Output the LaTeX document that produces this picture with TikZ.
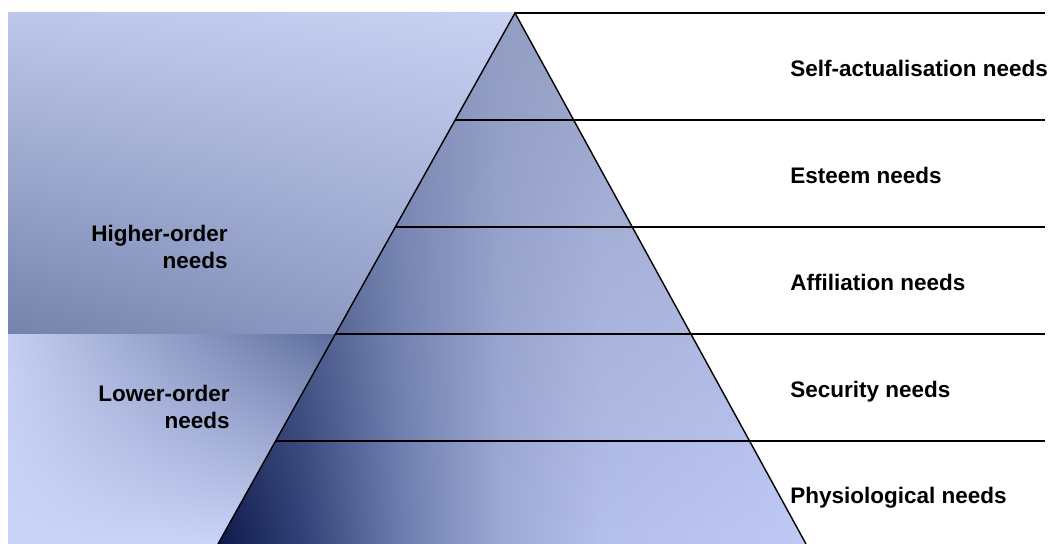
\documentclass[tikz,border=0pt]{standalone}
\usepackage{fontspec}
\setmainfont{Liberation Sans}
\usetikzlibrary{calc,shadings,fadings}

\definecolor{skytop}{RGB}{190,199,234}
\definecolor{skytopr}{RGB}{200,209,242}
\definecolor{skylow}{RGB}{116,131,172}
\definecolor{skylowr}{RGB}{152,164,205}
\definecolor{groundl}{RGB}{198,207,242}
\definecolor{grounds}{RGB}{92,108,155}
\definecolor{groundb}{RGB}{202,211,248}
\definecolor{haze}{RGB}{140,150,184}

\pgfdeclarehorizontalshading{pyramidshade}{100bp}{
  color(0bp)=(rgb,255:red,15;green,25;blue,75);
  color(25bp)=(rgb,255:red,15;green,25;blue,75);
  color(32bp)=(rgb,255:red,48;green,64;blue,118);
  color(40.5bp)=(rgb,255:red,108;green,124;blue,174);
  color(49bp)=(rgb,255:red,158;green,170;blue,214);
  color(57.5bp)=(rgb,255:red,180;green,191;blue,234);
  color(75bp)=(rgb,255:red,192;green,202;blue,246);
  color(100bp)=(rgb,255:red,192;green,202;blue,246)}
\tikzfading[name=fadedown, top color=transparent!35, bottom color=transparent!100]

\tikzset{
  need/.style={font=\bfseries\fontsize{12.8}{15.3}\selectfont, anchor=base west, inner sep=0pt},
  order/.style={font=\bfseries\fontsize{12.8}{15.3}\selectfont, anchor=base east, align=right, inner sep=0pt},
  tier/.style={line width=0.8pt}
}

\begin{document}
\begin{tikzpicture}[x=0.02cm,y=-0.02cm]
  \useasboundingbox (0,0) rectangle (1055,544);
  \coordinate (apex) at (515,13);
  \coordinate (bl) at (218,544);
  \coordinate (br) at (806,544);
  \coordinate (rim) at (1045,13);

  % shaded background on the left
  \shade[upper left=skytop, upper right=skytopr, lower left=skylow, lower right=skylowr]
    (8,13) rectangle (515,334);
  \shade[upper left=groundl, upper right=grounds, lower left=groundb, lower right=groundb]
    (8,334) rectangle (336,544);

  % pyramid
  \shade[shading=pyramidshade] (apex) -- (bl) -- (br) -- cycle;
  \fill[haze, path fading=fadedown] (apex) -- (bl) -- (br) -- cycle;
  \draw[tier] (bl) -- (apex) -- (br);

  % levels
  \draw[tier] (apex) -- (rim);
  \foreach \f [count=\i] in {0.2015,0.403,0.6045,0.806} {
    \coordinate (l\i) at ($(apex)!\f!(bl)$);
    \draw[tier] (l\i) -- (l\i -| rim);
  }

  \node[need] (self) at (790,77) {Self-actualisation needs};
  \node[need] (esteem) at (790,183) {Esteem needs};
  \node[need] (affil) at (790,290) {Affiliation needs};
  \node[need] (secur) at (790,397) {Security needs};
  \node[need] (phys) at (790,503) {Physiological needs};

  \node[order] (higher) at (228,268) {Higher-order\\needs};
  \node[order] (lower) at (230,428) {Lower-order\\needs};
\end{tikzpicture}
\end{document}
